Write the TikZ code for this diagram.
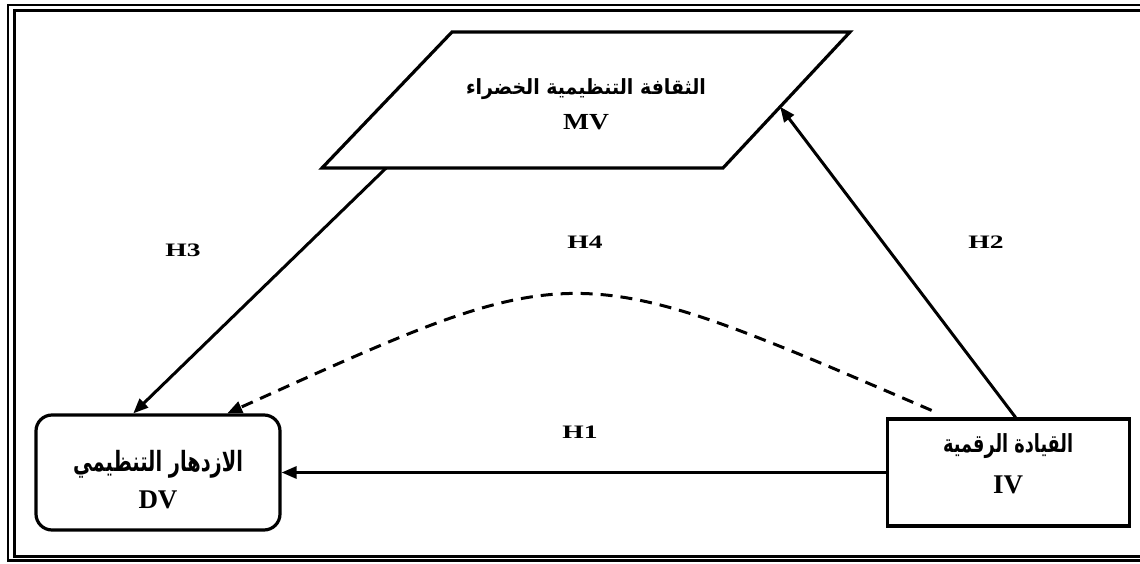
\documentclass[tikz,border=0pt]{standalone}
\usepackage{fontspec}
\usepackage{graphicx}
\setmainfont{Liberation Serif}
\newfontfamily\arabicfont[Script=Arabic]{DejaVu Sans}
\newfontfamily\hypfont[FakeStretch=1.45]{Liberation Serif}
\newfontfamily\mvfont[FakeStretch=1.2]{Liberation Serif}
\TeXXeTstate=1
\usetikzlibrary{arrows.meta,positioning,calc}

\begin{document}
\begin{tikzpicture}[x=1pt,y=1pt,>={Triangle[length=15pt,width=12pt]},
  varbox/.style={draw,line width=3.2pt,inner sep=0pt,
    font=\fontsize{27}{30}\selectfont\bfseries},
  arr/.style={->,line width=3pt},
  hyp/.style={font=\hypfont\fontsize{19}{22}\selectfont\bfseries}]

  \useasboundingbox (0,0) rectangle (1140,563);
  \clip (0,0) rectangle (1140,563);

  % frame
  \draw[line width=2.5pt] (8,2.5) rectangle (1160,558);
  \draw[line width=3pt] (14,7) rectangle (1154,552);

  % variables
  \node[varbox,rounded corners=16pt] (dv) at (158,90.5)
        {\parbox[c][115pt][t]{244pt}{\centering\offinterlineskip\vspace*{35pt}%
         \resizebox*{170pt}{28pt}{\arabicfont\bfseries\beginR الازدهار التنظيمي\endR}\par
         \vspace{13pt}DV\par}};

  \node[varbox,right=604pt of dv] (iv)
        {\parbox[c][107pt][t]{242pt}{\centering\offinterlineskip\vspace*{15pt}%
         \resizebox*{130pt}{25pt}{\arabicfont\bfseries\beginR القيادة الرقمية\endR}\par
         \vspace{17pt}IV\par}};

  \coordinate (mvbl) at (322,395);
  \coordinate (mvbr) at (723,395);
  \coordinate (mvtr) at (850,531);
  \coordinate (mvtl) at (452,531);
  \draw[line width=3.2pt] (mvbl) -- (mvbr) -- (mvtr) -- (mvtl) -- cycle;
  \node[anchor=north,inner sep=0pt,font=\mvfont\fontsize{23}{28}\selectfont\bfseries] (mv) at (586,485)
        {\parbox[t]{300pt}{\centering\offinterlineskip
         \resizebox*{240pt}{21pt}{\arabicfont\bfseries\beginR الثقافة التنظيمية الخضراء\endR}\par
         \vspace{15pt}MV\par}};

  % hypotheses
  \draw[arr] (iv.west) -- (iv.west -| dv.east);
  \draw[arr] ($(iv.north west)!0.53!(iv.north east)$) -- ($(mvtr)!0.55!(mvbr)$);
  \draw[arr] ($(mvbl)!0.16!(mvbr)$) -- ($(dv.north west)!0.4!(dv.north east)$);
  \draw[arr,dash pattern=on 12pt off 8pt] ($(iv.north west)+(46,7)$) .. controls +(-363,156) and +(351,158) .. ($(dv.north west)!0.78!(dv.north east)$);

  \node[hyp] (h1) at (580,131) {H1};
  \node[hyp] (h2) at (986,321) {H2};
  \node[hyp] (h3) at (183,313) {H3};
  \node[hyp] (h4) at (585,321) {H4};

\end{tikzpicture}
\end{document}
